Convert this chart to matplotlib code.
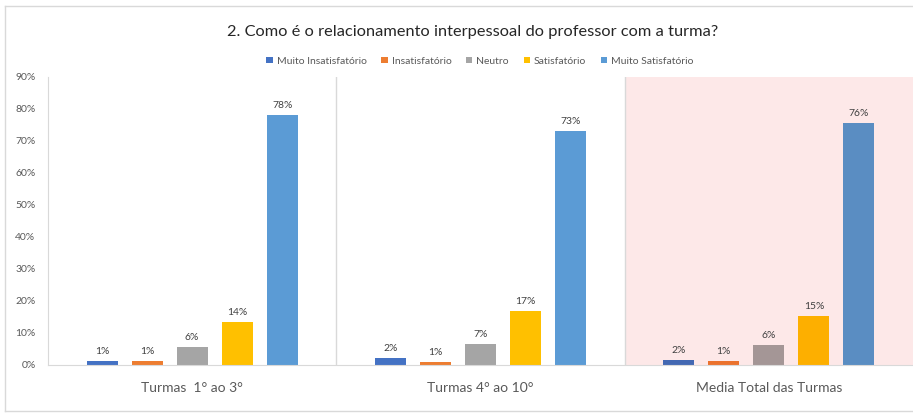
import matplotlib
matplotlib.use("Agg")
import matplotlib.pyplot as plt
from matplotlib.patches import Patch
from matplotlib.lines import Line2D
import matplotlib.colors as mcolors

# Survey answers (%) per class group
groups = ["Turmas  1° ao 3°", "Turmas 4° ao 10°", "Media Total das Turmas"]
answers = ["Muito Insatisfatório", "Insatisfatório", "Neutro", "Satisfatório", "Muito Satisfatório"]
muito_insatisfatorio = [1.3, 2.2, 1.6]
insatisfatorio = [1.2, 0.8, 1.1]
neutro = [5.7, 6.6, 6.3]
satisfatorio = [13.5, 16.8, 15.4]
muito_satisfatorio = [78.0, 73.0, 75.7]
yticks = [0, 10, 20, 30, 40, 50, 60, 70, 80, 90]

series = [muito_insatisfatorio, insatisfatorio, neutro, satisfatorio, muito_satisfatorio]
colors = ["#4472c4", "#ed7d31", "#a5a5a5", "#ffc000", "#5b9bd5"]
pink = "#fde8e8"

plt.rcParams["font.family"] = ["Lato", "DejaVu Sans"]

W, H = 913, 413
fig = plt.figure(figsize=(W / 100, H / 100), dpi=100)
fig.patch.set_facecolor("white")

# outer chart border
for (x0, y0, x1, y1) in [(5, 6, 5, 411), (5, 6, 913, 6), (5, 411, 913, 411)]:
    fig.add_artist(Line2D([x0 / W, x1 / W], [1 - y0 / H, 1 - y1 / H],
                          color="#d9d9d9", lw=1.0, transform=fig.transFigure))

ax = fig.add_axes([48 / W, 48 / H, 865 / W, 288 / H])
ax.set_xlim(-0.5, 2.5)
ax.set_ylim(0, 90)

# highlighted group background
ax.axvspan(1.5, 2.5, color=pink, zorder=0, lw=0)
for xs in (0.5, 1.5):
    ax.axvline(xs, color="#d9d9d9", lw=1.0, zorder=1)


def tint(c):
    # multiply-blend a colour with the pink highlight
    r, g, b = mcolors.to_rgb(c)
    pr, pg, pb = mcolors.to_rgb(pink)
    return (r * pr, g * pg, b * pb)


pitch = 45 / 288
width = 31 / 288
for i, (vals, col) in enumerate(zip(series, colors)):
    offs = (i - 2) * pitch
    xs = [g + offs for g in range(len(groups))]
    bar_cols = [col, col, tint(col)]
    ax.bar(xs, vals, width=width, color=bar_cols, zorder=2, label=answers[i])
    for x, v in zip(xs, vals):
        ax.text(x, v + 1.6, f"{v:.0f}%", ha="center", va="bottom",
                fontsize=7.5, color="#404040", zorder=3)

ax.set_xticks(range(len(groups)))
ax.set_xticklabels(groups, fontsize=10, color="#595959")
ax.set_yticks(yticks)
ax.set_yticklabels([f"{t}%" for t in yticks], fontsize=7.5, color="#595959")
ax.tick_params(axis="both", length=0)
ax.tick_params(axis="x", pad=12)
ax.tick_params(axis="y", pad=9)
for s in ("top", "right"):
    ax.spines[s].set_visible(False)
ax.spines["left"].set_color("#d9d9d9")
ax.spines["bottom"].set_color("#d9d9d9")
ax.set_facecolor("none")

fig.text(473 / W, 1 - 32 / H, "2. Como é o relacionamento interpessoal do professor com a turma?",
         ha="center", va="center", fontsize=11.8, color="#262626")

handles = [Patch(facecolor=c, edgecolor="none") for c in colors]
fig.legend(handles, answers, loc="center", bbox_to_anchor=(480 / W, 1 - 61 / H),
           ncol=5, frameon=False, fontsize=7.5, handlelength=0.6, handleheight=0.6,
           handletextpad=0.4, columnspacing=1.4, labelcolor="#595959")

fig.savefig("out.png", dpi=100, facecolor="white")
